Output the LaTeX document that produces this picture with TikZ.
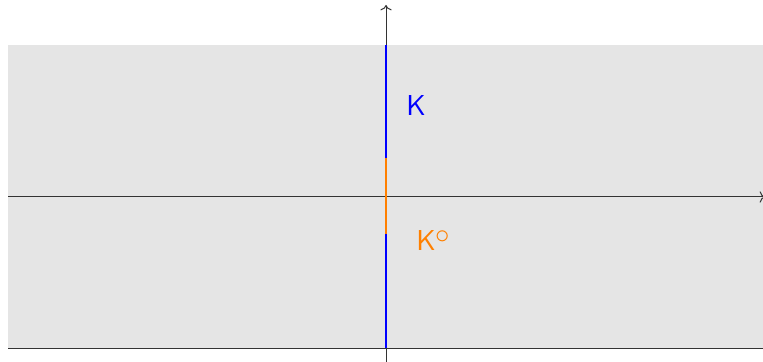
\documentclass[tikz,border=0pt]{standalone}
\usetikzlibrary{arrows.meta}
\begin{document}
\begin{tikzpicture}[x=0.5pt,y=-0.5pt,
  axis/.style={draw=black!80,line width=0.5pt,->},
  seg/.style={line width=1.1pt},
  lab/.style={font=\sffamily\Large,inner sep=0pt}]
\useasboundingbox (0,0) rectangle (763,362);
\begin{scope}
\clip (0,0) rectangle (763,362);
\fill[black!10] (8,45) rectangle (765,348);
\draw[black!80,line width=0.5pt] (8,348) -- (765,348);
\coordinate (xs) at (8,197);
\coordinate (xe) at (765,197);
\coordinate (ys) at (386,365);
\coordinate (ye) at (386,5);
\draw[axis] (xs) -- (xe);
\draw[axis] (ys) -- (ye);
\coordinate (a) at (386,45);
\coordinate (b) at (386,158);
\coordinate (c) at (386,234);
\coordinate (d) at (386,348);
\draw[seg,blue] (a) -- (b);
\draw[seg,orange] (b) -- (c);
\draw[seg,blue] (c) -- (d);
\end{scope}
\node[lab,text=blue] (K) at (416,106) {K};
\node[lab,text=orange,anchor=base west] (Ko) at (416,251) {K\raisebox{0.55ex}{$\circ$}};
\end{tikzpicture}
\end{document}
